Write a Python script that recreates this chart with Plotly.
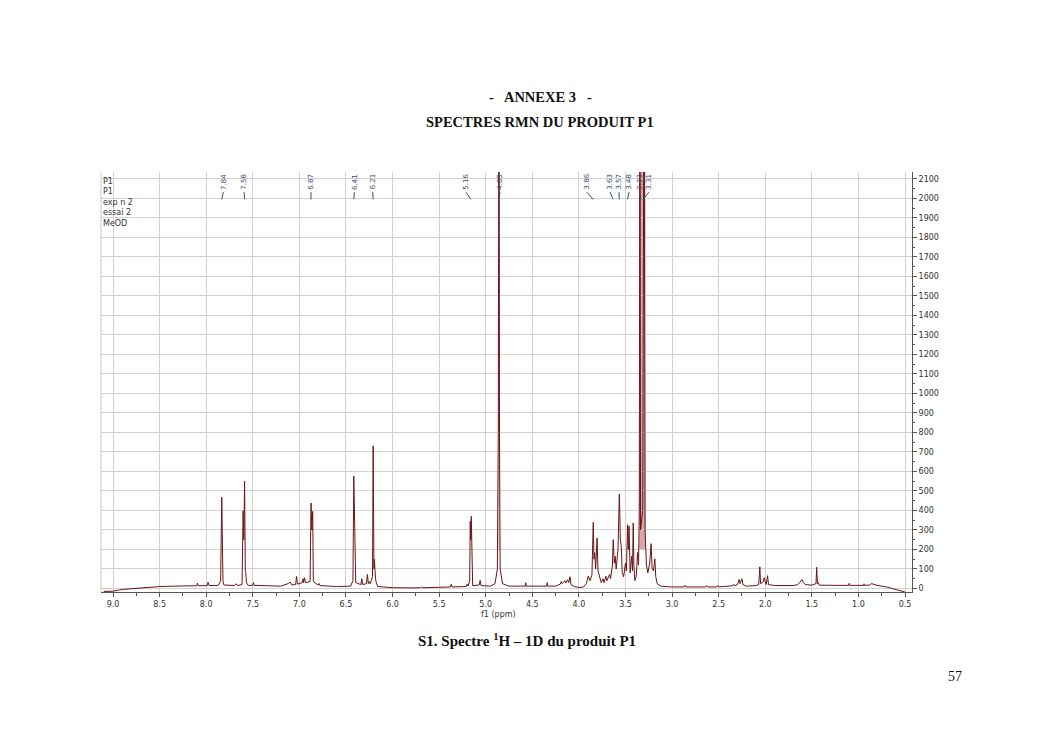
import plotly.graph_objects as go

# ---- spectrum polyline (ppm, intensity) ----
ppm = [9.10, 9.00, 8.90, 8.75, 8.50, 8.25, 8.10, 8.095, 8.085, 7.99, 7.98, 7.97, 7.87,
       7.845, 7.838, 7.833, 7.828, 7.82, 7.81, 7.70, 7.675, 7.665, 7.615, 7.604, 7.596,
       7.588, 7.580, 7.575, 7.568, 7.55, 7.50, 7.492, 7.485, 7.30, 7.20, 7.12, 7.10, 7.08,
       7.04, 7.03, 7.02, 6.97, 6.96, 6.955, 6.945, 6.935, 6.885, 6.875, 6.866, 6.857, 6.85,
       6.80, 6.79, 6.78, 6.60, 6.45, 6.425, 6.416, 6.408, 6.402, 6.395, 6.34, 6.33, 6.32,
       6.28, 6.27, 6.26, 6.25, 6.24, 6.215, 6.208, 6.200, 6.195, 6.188, 6.18, 6.16, 6.00,
       5.80, 5.70, 5.69, 5.68, 5.50, 5.38, 5.37, 5.36, 5.21, 5.20, 5.19, 5.172, 5.166,
       5.160, 5.155, 5.148, 5.14, 5.07, 5.06, 5.05, 4.95, 4.90, 4.875, 4.865, 4.858, 4.852,
       4.845, 4.82, 4.75, 4.575, 4.57, 4.565, 4.345, 4.34, 4.335, 4.25, 4.20, 4.19, 4.18,
       4.15, 4.14, 4.12, 4.11, 4.095, 4.085, 4.05, 4.00, 3.95, 3.92, 3.90, 3.88, 3.86,
       3.852, 3.846, 3.838, 3.83, 3.82, 3.805, 3.795, 3.78, 3.76, 3.74, 3.73, 3.71, 3.70,
       3.67, 3.66, 3.64, 3.632, 3.62, 3.61, 3.60, 3.59, 3.58, 3.566, 3.555, 3.545, 3.535,
       3.52, 3.50, 3.49, 3.478, 3.470, 3.462, 3.45, 3.434, 3.425, 3.417, 3.41, 3.40, 3.385,
       3.37, 3.36, 3.352, 3.345, 3.338, 3.315, 3.300, 3.29, 3.275, 3.26,
       3.24, 3.225, 3.215, 3.20, 3.185, 3.175, 3.16, 3.12, 3.00, 2.87, 2.86, 2.85, 2.64,
       2.63, 2.62, 2.52, 2.51, 2.50, 2.40, 2.35, 2.34, 2.33, 2.30, 2.28, 2.27, 2.25, 2.24,
       2.20, 2.10, 2.07, 2.058, 2.05, 2.02, 2.012, 2.00, 1.99, 1.975, 1.965, 1.90, 1.70,
       1.65, 1.62, 1.605, 1.59, 1.57, 1.50, 1.455, 1.448, 1.44, 1.43, 1.42, 1.20, 1.105,
       1.10, 1.095, 0.945, 0.94, 0.935, 0.88, 0.86, 0.84, 0.80, 0.70, 0.60, 0.55, 0.50]
intensity = [-15, -14, -5, 2, 10, 13, 14, 28, 14, 15, 32, 15, 16,
             40, 300, 468, 300, 40, 18, 15, 24, 15, 20, 398, 250,
             550, 90, 85, 30, 16, 16, 30, 16, 13, 12, 25, 33, 18,
             20, 62, 22, 30, 50, 30, 55, 30, 35, 438, 300, 395, 35,
             18, 26, 15, 10, 12, 40, 577, 300, 290, 30, 20, 50, 20,
             25, 72, 25, 35, 25, 60, 731, 100, 150, 90, 40, 10, 4,
             3, 4, 9, 4, 6, 8, 22, 8, 10, 22, 12, 40, 344,
             250, 370, 40, 14, 18, 42, 15, 12, 25, 100, 800, 3000, 800,
             100, 25, 12, 12, 30, 12, 12, 30, 12, 12, 22, 35, 25,
             40, 28, 45, 30, 60, 20, 10, 5, 8, 25, 63, 40, 70,
             200, 339, 150, 184, 100, 259, 90, 60, 30, 50, 30, 63, 40,
             72, 50, 120, 250, 130, 165, 100, 150, 200, 485, 250, 216, 82,
             60, 130, 90, 327, 200, 320, 80, 165, 90, 336, 120, 40, 60,
             184, 120, 400, 3000, 300, 400, 3000, 300, 120, 80,
             130, 230, 107, 90, 152, 60, 25, 12, 8, 8, 16, 8, 8,
             15, 8, 8, 15, 8, 10, 14, 22, 15, 18, 46, 25, 50, 20,
             12, 15, 20, 111, 25, 35, 55, 35, 20, 66, 20, 15, 15,
             20, 35, 45, 30, 20, 17, 25, 109, 25, 30, 17, 16, 16,
             26, 16, 16, 24, 16, 18, 25, 22, 16, 8, -5, -14, -18]

# ---- peak labels ----
label_text = ["7.84", "7.58", "6.87", "6.41", "6.21", "5.16", "4.85",
              "3.86", "3.63", "3.57", "3.48", "3.33", "3.31"]
label_pos = [7.816, 7.594, 6.875, 6.410, 6.213, 5.212, 4.847,
             3.916, 3.666, 3.570, 3.462, 3.352, 3.248]
label_peak = [7.833, 7.588, 6.875, 6.416, 6.208, 5.16, 4.858,
              3.846, 3.632, 3.566, 3.478, 3.33, 3.31]

info_lines = ["P1", "P1", "exp n 2", "essai 2", "MeOD"]
y_ticks = list(range(0, 2101, 100))
x_ticks = [9.0, 8.5, 8.0, 7.5, 7.0, 6.5, 6.0, 5.5, 5.0, 4.5, 4.0, 3.5, 3.0, 2.5, 2.0, 1.5, 1.0, 0.5]

W, H = 1053, 745
L, R, T, B = 101, 912, 172, 592


def px(xp, yp):
    return (xp - L) / (R - L), (B - yp) / (B - T)


fig = go.Figure()
fig.add_trace(go.Scatter(x=ppm, y=intensity, mode="lines",
                         line=dict(color="#6a1616", width=1), hoverinfo="skip",
                         showlegend=False))

shapes = []
# pink shading of the intense solvent peaks
for x0, x1 in [(4.864, 4.851), (3.352, 3.285)]:
    shapes.append(dict(type="rect", xref="x", yref="paper", x0=x0, x1=x1, y0=0.1, y1=1,
                       fillcolor="rgba(190,110,110,0.6)", line=dict(width=0), layer="below"))
# left frame line
shapes.append(dict(type="line", xref="paper", yref="paper", x0=0, x1=0, y0=0, y1=1,
                   line=dict(color="#c8c8c8", width=1)))

annotations = []
for t, lp, pk in zip(label_text, label_pos, label_peak):
    annotations.append(dict(x=lp, y=0.977, xref="x", yref="paper", text=t, textangle=-90,
                            xanchor="center", yanchor="middle",
                            showarrow=False, font=dict(family="DejaVu Sans", size=7, color="#3c4a6e")))
    shapes.append(dict(type="line", xref="x", yref="paper", x0=lp, x1=pk, y0=0.952, y1=0.935,
                       line=dict(color="#3c4a6e", width=1)))

annotations.append(dict(x=0.0, y=0.993, xref="paper", yref="paper", xanchor="left", yanchor="top",
                        text="<br>".join(info_lines), showarrow=False, align="left",
                        font=dict(family="DejaVu Sans", size=8, color="#333333")))
fx, fy = px(498, 614)
annotations.append(dict(x=fx, y=fy, xref="paper", yref="paper", text="f1 (ppm)", showarrow=False,
                        xanchor="center", yanchor="middle",
                        font=dict(family="DejaVu Sans", size=8, color="#333333")))

serif = "Liberation Serif"
for text, xp, yp, size, bold in [
    ("-   ANNEXE 3   -", 540, 97, 14.5, True),
    ("SPECTRES RMN DU PRODUIT P1", 540, 122, 14.5, True),
    ("S1. Spectre <sup>1</sup>H – 1D du produit P1", 527, 640, 15, True),
    ("57", 955, 676, 14, False),
]:
    xx, yy = px(xp, yp)
    annotations.append(dict(x=xx, y=yy, xref="paper", yref="paper", xanchor="center", yanchor="middle",
                            text=f"<b>{text}</b>" if bold else text, showarrow=False,
                            font=dict(family=serif, size=size, color="#111111")))

fig.update_layout(
    width=W, height=H, paper_bgcolor="white", plot_bgcolor="white",
    margin=dict(l=L, r=W - R, t=T, b=H - B),
    shapes=shapes, annotations=annotations, showlegend=False,
    xaxis=dict(range=[9.129, 0.425], tickvals=x_ticks, ticktext=[f"{v:.1f}" for v in x_ticks],
               showgrid=True, gridcolor="#d2d2d2", gridwidth=1, zeroline=False,
               showline=True, linecolor="#555555", linewidth=1, ticks="outside", ticklen=4,
               tickcolor="#555555", minor=dict(dtick=0.25, ticks="outside", ticklen=3,
                                                tickcolor="#555555", showgrid=False),
               tickfont=dict(family="DejaVu Sans", size=8, color="#333333")),
    yaxis=dict(range=[-18, 2135], side="right", tickvals=y_ticks, ticktext=[str(v) for v in y_ticks],
               showgrid=True, gridcolor="#d2d2d2", gridwidth=1, zeroline=False,
               showline=True, linecolor="#555555", linewidth=1, ticks="outside", ticklen=4,
               tickcolor="#555555", minor=dict(dtick=50, ticks="outside", ticklen=2,
                                                tickcolor="#555555", showgrid=False),
               tickfont=dict(family="DejaVu Sans", size=8, color="#333333")),
)
fig.write_html("out.html", config={"displayModeBar": False},
               post_script="document.body.style.margin='0';document.body.style.overflow='hidden';")
